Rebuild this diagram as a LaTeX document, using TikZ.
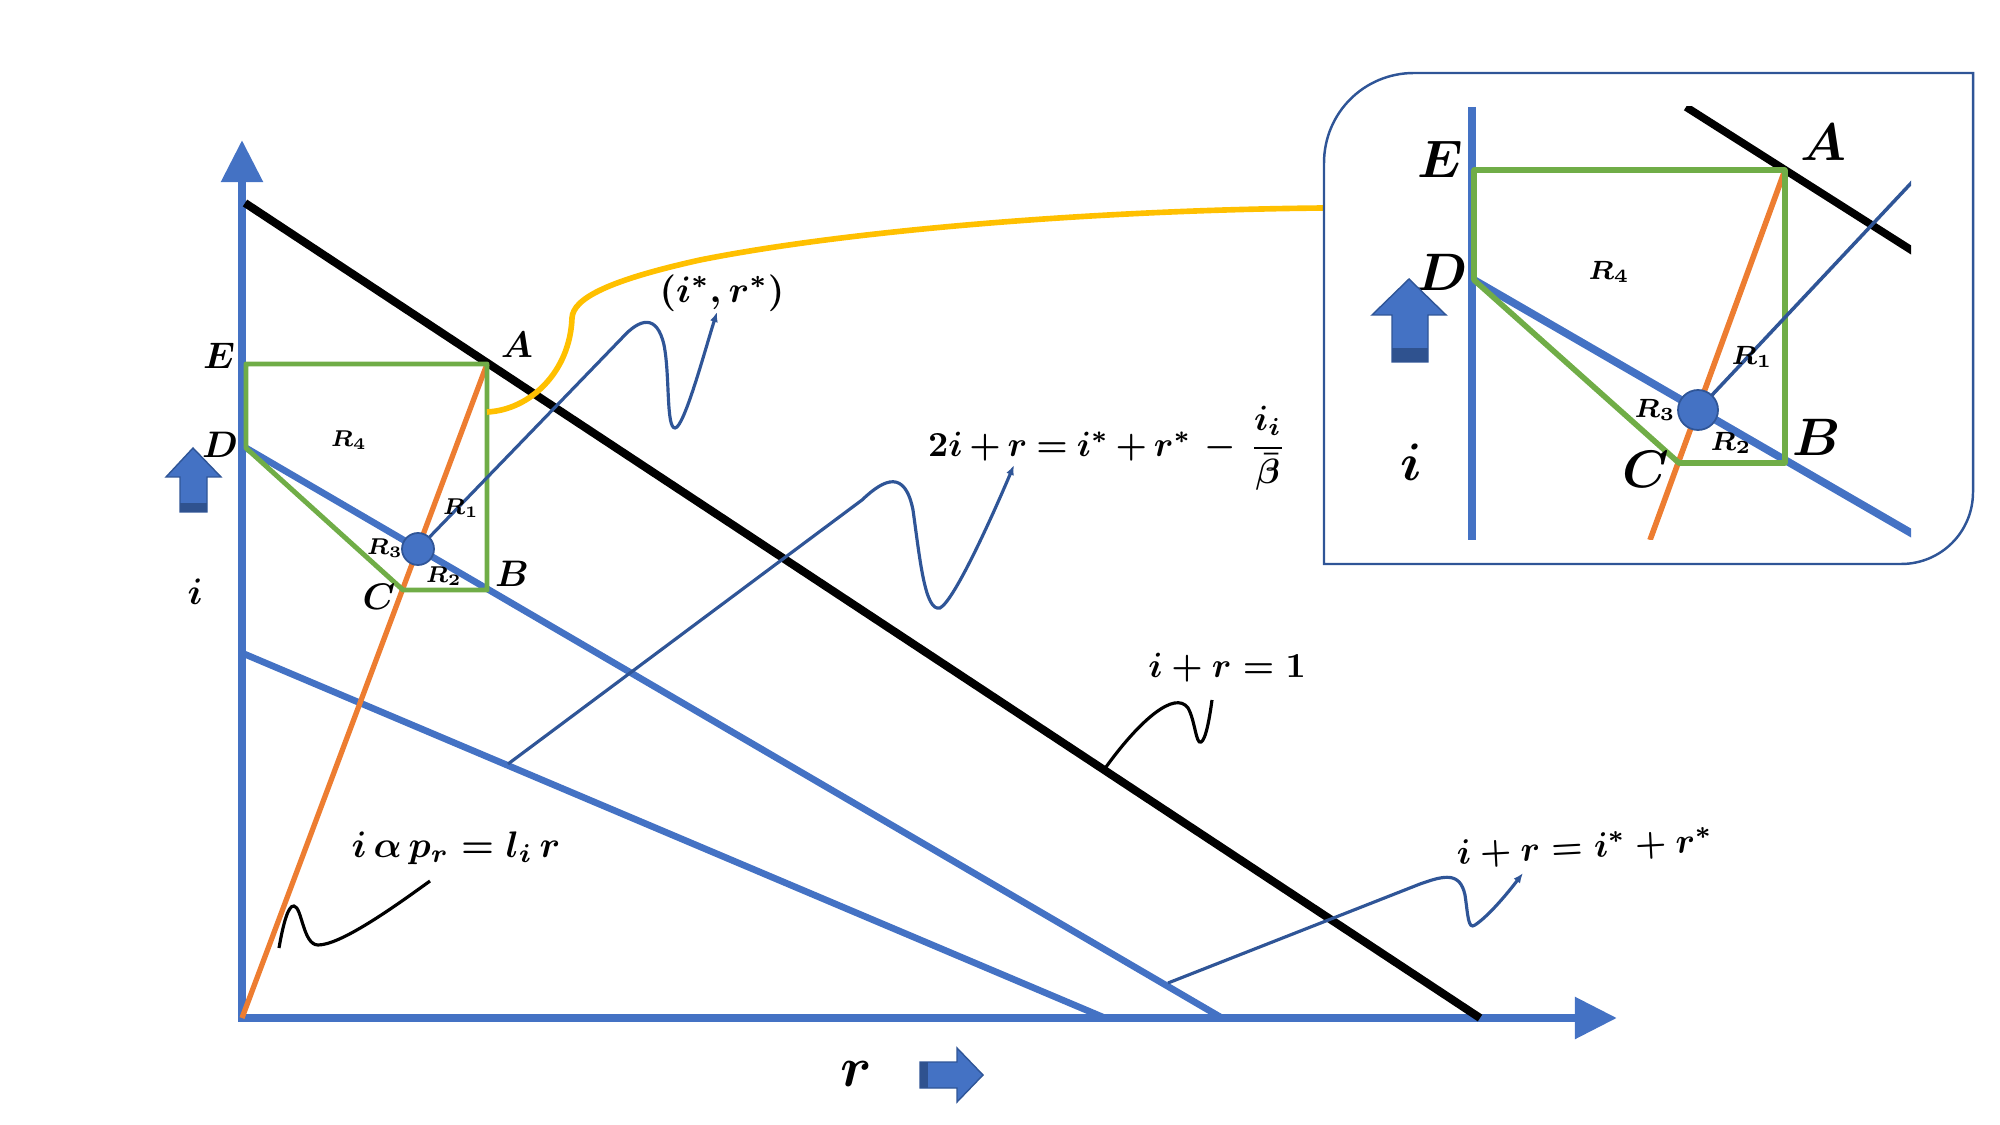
\RequirePackage{fix-cm}
\documentclass[tikz,border=0pt]{standalone}
\usepackage{amsmath}
\usetikzlibrary{arrows.meta}
\definecolor{axisblue}{HTML}{4472C4}
\definecolor{navy}{HTML}{2F5597}
\definecolor{bandblue}{HTML}{2F528F}
\definecolor{orng}{HTML}{ED7D31}
\definecolor{grn}{HTML}{70AD47}
\definecolor{ylw}{HTML}{FFC000}
\begin{document}
\begin{tikzpicture}[x=0.01cm, y=-0.01cm,
    axis/.style={axisblue, line width=2.4pt, -{Triangle[length=0.42cm,width=0.4cm]}},
    bline/.style={axisblue, line width=1.9pt},
    kline/.style={black, line width=2.3pt},
    oline/.style={orng, line width=1.5pt},
    gline/.style={grn, line width=1.4pt, line join=round},
    callout/.style={navy, line width=0.9pt, -{Latex[length=0.1cm,width=0.08cm]}},
    kcallout/.style={black, line width=0.9pt},
    fat/.style={fill=axisblue, draw=navy, line width=0.4pt},
    band/.style={fill=bandblue},
    pt/.style={font=\fontsize{10.5}{12}\selectfont\boldmath},
    rg/.style={font=\fontsize{6.5}{8}\selectfont\boldmath},
    eqn/.style={font=\fontsize{10}{12}\selectfont\boldmath},
    bigpt/.style={font=\fontsize{15}{17}\selectfont\boldmath},
    bigrg/.style={font=\fontsize{7.5}{9}\selectfont\boldmath}]
    \useasboundingbox (0,0) rectangle (2000,1125);
    % main diagram points
    \coordinate (O) at (242,1018);
    \coordinate (E) at (246,364);
    \coordinate (A) at (487,364);
    \coordinate (B) at (487,590);
    \coordinate (C) at (403,590);
    \coordinate (D) at (246,448);
    \coordinate (P) at (418,549);
    \coordinate (k1) at (245,203);
    \coordinate (k2) at (1480,1018);
    \coordinate (b1) at (1222,1018);
    \coordinate (b2) at (242,653);
    \coordinate (b3) at (1105,1018);
    % axes
    \draw[axis] (238,1018) -- (1617,1018);
    \draw[axis] (O) -- (242,140);
    \draw[kline] (k1) -- (k2);
    \draw[bline] (D) -- (b1);
    \draw[bline] (b2) -- (b3);
    \draw[oline] (O) -- (A);
    \draw[gline] (E) -- (A) -- (B) -- (C) -- (D) -- cycle;
    % callouts
    \draw[callout] (P) -- (622,338) .. controls (640,318) and (657,314) .. (664,345)
        .. controls (670,375) and (666,428) .. (675,428) .. controls (684,428) and (705,350) .. (717,312);
    \draw[callout] (508,764) -- (862,500) .. controls (885,478) and (905,470) .. (913,510)
        .. controls (920,560) and (925,612) .. (940,608) .. controls (955,600) and (995,510) .. (1014,465);
    \draw[kcallout] (1106,767) .. controls (1140,720) and (1175,690) .. (1188,708)
        .. controls (1195,720) and (1196,745) .. (1201,742) .. controls (1206,740) and (1210,715) .. (1212,700);
    \draw[callout] (1168,983) -- (1420,884) .. controls (1445,875) and (1460,872) .. (1465,895)
        .. controls (1468,915) and (1468,930) .. (1475,925) .. controls (1490,915) and (1510,890) .. (1523,873);
    \draw[kcallout] (279,948) .. controls (283,925) and (288,905) .. (294,906)
        .. controls (302,907) and (303,945) .. (318,945) .. controls (340,945) and (390,910) .. (430,881);
    \filldraw[fill=axisblue, draw=navy, line width=0.5pt] (P) circle [radius=16];
    % point labels
    \node[pt] (lE) at (219,356) {$E$};
    \node[pt] (lA) at (517,345) {$A$};
    \node[pt] (lD) at (220,445) {$D$};
    \node[pt] (lB) at (512,574) {$B$};
    \node[pt] (lC) at (379,597) {$C$};
    \node[rg] (r4) at (349,440) {$R_4$};
    \node[rg] (r1) at (461,508) {$R_1$};
    \node[rg] (r3) at (385,548) {$R_3$};
    \node[rg] (r2) at (444,576) {$R_2$};
    \node[pt] (li) at (195,592) {$i$};
    \node[font=\fontsize{16}{18}\selectfont\boldmath] (lr) at (856,1074) {$r$};
    % equations
    \node[pt] (star) at (722,293) {$(i^*,r^*)$};
    \node[eqn] (eqbeta) at (1107,448) {\medmuskip=3mu \thickmuskip=4mu
        $2i+r=i^*+r^*\,-\,\dfrac{i_i}{\bar{\beta}}$};
    \node[eqn] (eqone) at (1227,668) {$i+r=1$};
    \node[eqn, rotate=3] (eqsum) at (1585,848) {$i+r=i^*+r^*$};
    \node[font=\fontsize{10.5}{12}\selectfont\boldmath] (eqray) at (456,848) {$i\,\alpha\,p_r=l_i\,r$};
    % block arrows
    \filldraw[fat] (180,512) -- (180,477) -- (166,477) -- (193,448) -- (221,477) -- (207,477) -- (207,512) -- cycle;
    \fill[band] (180,503) rectangle (207,512);
    \filldraw[fat] (920,1062) -- (957,1062) -- (957,1048) -- (983,1075) -- (957,1102) -- (957,1088) -- (920,1088) -- cycle;
    \fill[band] (920,1062) rectangle (928,1088);
    % zoomed box
    \coordinate (yl) at (487,412);
    \coordinate (yr) at (1324,208);
    \draw[ylw, line width=1.6pt] (yl) .. controls (530,410) and (570,372) .. (572,318)
        .. controls (573,298) and (610,280) .. (700,260) .. controls (850,230) and (1100,210) .. (yr);
    \draw[navy, line width=0.7pt] (1324,564) -- (1324,163) .. controls (1324,113) and (1364,73) .. (1414,73)
        -- (1973,73) -- (1973,492) .. controls (1973,532) and (1941,564) .. (1901,564) -- cycle;
    \coordinate (iE) at (1474,170);
    \coordinate (iA) at (1785,170);
    \coordinate (iB) at (1785,463);
    \coordinate (iC) at (1679,463);
    \coordinate (iD) at (1474,280);
    \coordinate (iP) at (1698,410);
    \begin{scope}
        \clip (1462,107) rectangle (1911,540);
        \draw[axisblue, line width=2.2pt] (1472,107) -- (1472,540);
        \draw[black, line width=2.2pt] (1686,107) -- (1930,262);
        \draw[orng, line width=1.6pt] (1650,540) -- (iA);
        \draw[axisblue, line width=2.2pt] (iD) -- (1930,544);
        \draw[gline, line width=1.6pt] (iE) -- (iA) -- (iB) -- (iC) -- (iD) -- cycle;
        \draw[navy, line width=1pt] (iP) -- (1930,163);
        \filldraw[fill=axisblue, draw=navy, line width=0.5pt] (iP) circle [radius=20];
    \end{scope}
    \node[bigpt] (ilE) at (1440,159) {$E$};
    \node[bigpt] (ilA) at (1823,142) {$A$};
    \node[bigpt] (ilD) at (1442,272) {$D$};
    \node[bigpt] (ilB) at (1817,437) {$B$};
    \node[bigpt] (ilC) at (1646,469) {$C$};
    \node[bigrg] (ir4) at (1609,272) {$R_4$};
    \node[bigrg] (ir1) at (1752,357) {$R_1$};
    \node[bigrg] (ir3) at (1655,410) {$R_3$};
    \node[bigrg] (ir2) at (1731,443) {$R_2$};
    \node[bigpt] (ili) at (1411,462) {$i$};
    \filldraw[fat] (1392,362) -- (1392,315) -- (1372,315) -- (1409,279) -- (1446,315) -- (1428,315) -- (1428,362) -- cycle;
    \fill[band] (1392,348) rectangle (1428,362);
\end{tikzpicture}
\end{document}
